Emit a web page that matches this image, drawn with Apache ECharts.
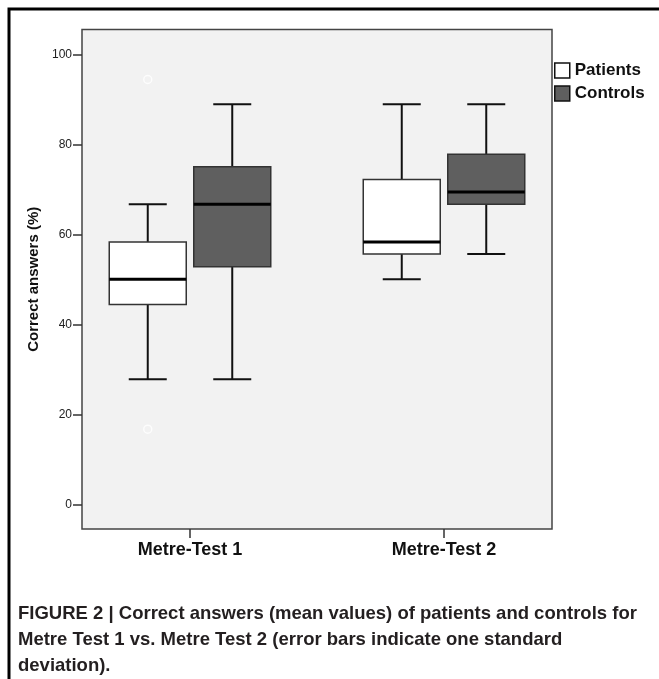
<!DOCTYPE html>
<html><head><meta charset="utf-8">
<script src="https://cdn.jsdelivr.net/npm/echarts@6/dist/echarts.min.js"></script>
<style>html,body{margin:0;padding:0;background:#fff}#c{width:659px;height:679px}</style>
</head><body><div id="c"></div>
<script>
const categories = ['Metre-Test 1', 'Metre-Test 2'];
// each item: [min, Q1, median, Q3, max]
const patients = [[27.8, 44.4, 50.0, 58.3, 66.7], [50.0, 55.6, 58.3, 72.2, 88.9]];
const controls = [[27.8, 52.8, 66.7, 75.0, 88.9], [55.6, 66.7, 69.4, 77.8, 88.9]];
// [category index, value]
const patientOutliers = [[0, 94.4], [0, 16.7]];
const yTicks = [0, 20, 40, 60, 80, 100];
const seriesNames = ['Patients', 'Controls'];
const captionLines = [
  'FIGURE 2 | Correct answers (mean values) of patients and controls for',
  'Metre Test 1 vs. Metre Test 2 (error bars indicate one standard',
  'deviation).'
];

const FONT = '"Liberation Sans", Arial, Helvetica, sans-serif';
const BOX_HALF = 38.5, CAP_HALF = 19, GROUP_OFFSET = 42.25;

function makeRender(offset, fill) {
  return function (params, api) {
    const i = api.value(0);
    const cx = api.coord([i, 0])[0] + offset;
    const y = k => api.coord([i, api.value(k)])[1];
    const yMin = y(1), yQ1 = y(2), yMed = y(3), yQ3 = y(4), yMax = y(5);
    const ws = { stroke: '#111', lineWidth: 2 };
    return {
      type: 'group', children: [
        { type: 'line', shape: { x1: cx, y1: yMax, x2: cx, y2: yQ3 }, style: ws },
        { type: 'line', shape: { x1: cx, y1: yQ1, x2: cx, y2: yMin }, style: ws },
        { type: 'line', shape: { x1: cx - CAP_HALF, y1: yMax, x2: cx + CAP_HALF, y2: yMax }, style: ws },
        { type: 'line', shape: { x1: cx - CAP_HALF, y1: yMin, x2: cx + CAP_HALF, y2: yMin }, style: ws },
        { type: 'rect', shape: { x: cx - BOX_HALF, y: yQ3, width: 2 * BOX_HALF, height: yQ1 - yQ3 },
          style: { fill: fill, stroke: '#333', lineWidth: 1.5 } },
        { type: 'line', shape: { x1: cx - BOX_HALF, y1: yMed, x2: cx + BOX_HALF, y2: yMed },
          style: { stroke: '#000', lineWidth: 3 } }
      ]
    };
  };
}

const chart = echarts.init(document.getElementById('c'), null, { renderer: 'canvas' });
chart.setOption({
  animation: false,
  textStyle: { fontFamily: FONT },
  title: {
    text: captionLines.join('\n'), left: 18, top: 601, padding: 0,
    textStyle: { fontFamily: FONT, fontSize: 18.5, fontWeight: 'bold', lineHeight: 26, color: '#231f20' }
  },
  legend: {
    orient: 'vertical', left: 554, top: 62, padding: 0,
    itemWidth: 15, itemHeight: 15, itemGap: 6, icon: 'rect',
    textStyle: { fontFamily: FONT, fontSize: 17, fontWeight: 'bold', color: '#111' },
    data: [
      { name: seriesNames[0], itemStyle: { color: '#ffffff', borderColor: '#111', borderWidth: 1.5 } },
      { name: seriesNames[1], itemStyle: { color: '#5f5f5f', borderColor: '#111', borderWidth: 1.5 } }
    ]
  },
  grid: [
    { left: 82, top: 29.5, width: 470, height: 499.5, show: true, backgroundColor: '#f2f2f2',
      borderColor: '#444', borderWidth: 1.5 },
    { left: 63, top: 54.3, width: 508, height: 450 },
    { left: 63, top: 29.5, width: 508, height: 499.5 }
  ],
  xAxis: [
    { gridIndex: 0, type: 'value', show: false },
    { gridIndex: 1, type: 'category', data: categories, boundaryGap: true, show: false },
    { gridIndex: 2, type: 'category', data: categories, boundaryGap: true,
      axisLine: { show: false },
      axisTick: { show: true, alignWithLabel: true, length: 9, lineStyle: { color: '#333', width: 1.5 } },
      axisLabel: { margin: 12, fontSize: 18, fontWeight: 'bold', color: '#111', fontFamily: FONT },
      splitLine: { show: false } }
  ],
  yAxis: [
    { gridIndex: 0, type: 'value', show: false },
    { gridIndex: 1, type: 'value', min: yTicks[0], max: yTicks[yTicks.length - 1], interval: yTicks[1] - yTicks[0],
      offset: -19,
      axisLine: { show: false },
      axisTick: { show: true, length: 9, lineStyle: { color: '#333', width: 1.5 } },
      axisLabel: { margin: 10, fontSize: 12, color: '#222', fontFamily: FONT },
      splitLine: { show: false },
      name: 'Correct answers (%)', nameLocation: 'middle', nameGap: 41,
      nameTextStyle: { fontSize: 15, fontWeight: 'bold', color: '#111', fontFamily: FONT } },
    { gridIndex: 2, type: 'value', show: false }
  ],
  series: [
    { name: seriesNames[0], type: 'custom', xAxisIndex: 1, yAxisIndex: 1,
      data: patients.map((d, i) => [i].concat(d)), encode: { x: 0, y: [1, 2, 3, 4, 5] },
      itemStyle: { color: '#ffffff', borderColor: '#111' },
      renderItem: makeRender(-GROUP_OFFSET, '#ffffff') },
    { name: seriesNames[1], type: 'custom', xAxisIndex: 1, yAxisIndex: 1,
      data: controls.map((d, i) => [i].concat(d)), encode: { x: 0, y: [1, 2, 3, 4, 5] },
      itemStyle: { color: '#5f5f5f', borderColor: '#111' },
      renderItem: makeRender(GROUP_OFFSET, '#5f5f5f') },
    { name: 'Outliers', type: 'scatter', xAxisIndex: 1, yAxisIndex: 1,
      data: patientOutliers, symbol: 'circle', symbolSize: 8, symbolOffset: [-GROUP_OFFSET, 0],
      itemStyle: { color: 'rgba(0,0,0,0)', borderColor: '#ffffff', borderWidth: 1.5 }, silent: true }
  ],
  graphic: [
    { type: 'polyline', shape: { points: [[9, 679], [9, 9], [659, 9]] },
      style: { stroke: '#000', lineWidth: 3, fill: null }, silent: true }
  ]
});
</script></body></html>
